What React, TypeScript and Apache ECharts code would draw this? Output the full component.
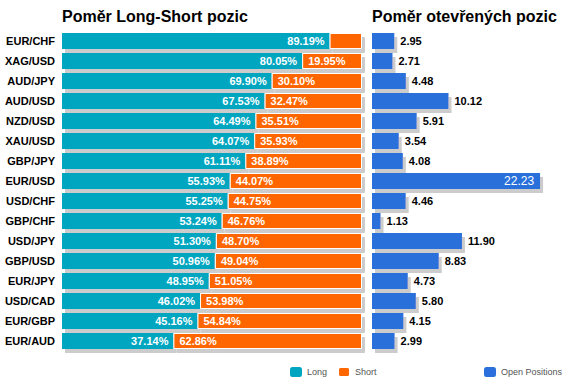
import React, { useEffect, useRef } from "react";
import * as echarts from "echarts";

const pairs = ["EUR/CHF","XAG/USD","AUD/JPY","AUD/USD","NZD/USD","XAU/USD","GBP/JPY","EUR/USD","USD/CHF","GBP/CHF","USD/JPY","GBP/USD","EUR/JPY","USD/CAD","EUR/GBP","EUR/AUD"];
const longPct = [89.19,80.05,69.90,67.53,64.49,64.07,61.11,55.93,55.25,53.24,51.30,50.96,48.95,46.02,45.16,37.14];
const shortPct = [10.81,19.95,30.10,32.47,35.51,35.93,38.89,44.07,44.75,46.76,48.70,49.04,51.05,53.98,54.84,62.86];
const openPos = [2.95,2.71,4.48,10.12,5.91,3.54,4.08,22.23,4.46,1.13,11.90,8.83,4.73,5.80,4.15,2.99];

const FONT = "'Liberation Sans', Arial, sans-serif";
const TEAL = "#00A6BF";
const ORANGE = "#FF6600";
const BLUE = "#2A6FDB";
const SHADOW = "#CCCCCC";

export default function App() {
  const ref = useRef<HTMLDivElement>(null);
  useEffect(() => {
    const chart = echarts.init(ref.current!, null, { renderer: "svg" });
    const shadowStyle = { shadowColor: SHADOW, shadowBlur: 0, shadowOffsetX: 3, shadowOffsetY: 4 };
    chart.setOption({
      animation: false,
      textStyle: { fontFamily: FONT },
      title: [
        { text: "Poměr Long-Short pozic", left: 62, top: 8, padding: 0, textStyle: { fontFamily: FONT, fontSize: 16, fontWeight: "bold", color: "#000" } },
        { text: "Poměr otevřených pozic", left: 372, top: 8, padding: 0, textStyle: { fontFamily: FONT, fontSize: 16, fontWeight: "bold", color: "#000" } },
      ],
      legend: [
        { data: ["Long", "Short"], left: 285, top: 361, itemWidth: 12, itemHeight: 10, itemGap: 10, textStyle: { fontFamily: FONT, fontSize: 9, color: "#555" } },
        { data: ["Open Positions"], left: 479, top: 362, itemWidth: 12, itemHeight: 10, textStyle: { fontFamily: FONT, fontSize: 9, color: "#555" } },
      ],
      grid: [
        { left: 62, width: 300, top: 31, height: 320 },
        { left: 372, width: 189, top: 31, height: 320 },
      ],
      xAxis: [
        { gridIndex: 0, type: "value", min: 0, max: 100, show: false },
        { gridIndex: 1, type: "value", min: 0, max: 25, show: false },
      ],
      yAxis: [
        { gridIndex: 0, type: "category", data: pairs, inverse: true, axisLine: { show: false }, axisTick: { show: false },
          axisLabel: { margin: 7, fontFamily: FONT, fontSize: 11, fontWeight: "bold", color: "#000" } },
        { gridIndex: 1, type: "category", data: pairs, inverse: true, show: false },
      ],
      series: [
        { name: "Long", type: "bar", stack: "ls", xAxisIndex: 0, yAxisIndex: 0, data: longPct, barWidth: 16,
          itemStyle: { color: TEAL, ...shadowStyle },
          label: { show: true, position: "insideRight", distance: 5, formatter: (p: any) => p.value.toFixed(2) + "%",
            color: "#fff", fontFamily: FONT, fontSize: 11, fontWeight: "bold" } },
        { name: "Short", type: "bar", stack: "ls", xAxisIndex: 0, yAxisIndex: 0, data: shortPct, barWidth: 16,
          itemStyle: { color: ORANGE, borderColor: "#fff", borderWidth: 1, ...shadowStyle },
          label: { show: true, position: "insideLeft", distance: 6, formatter: (p: any) => (p.value < 15 ? "" : p.value.toFixed(2) + "%"),
            color: "#fff", fontFamily: FONT, fontSize: 11, fontWeight: "bold" } },
        { name: "Open Positions", type: "bar", xAxisIndex: 1, yAxisIndex: 1, data: openPos.map((v) => v >= 20
            ? { value: v, label: { position: "insideRight", color: "#fff", fontWeight: "normal", fontSize: 12 } }
            : v), barWidth: 16,
          itemStyle: { color: BLUE, ...shadowStyle },
          label: { show: true, position: "right", distance: 6, formatter: (p: any) => p.value.toFixed(2),
            color: "#000", fontFamily: FONT, fontSize: 11, fontWeight: "bold" } },
      ],
    });
    return () => chart.dispose();
  }, []);
  return <div ref={ref} style={{ width: 570, height: 382, position: "absolute", left: 0, top: 0 }} />;
}
